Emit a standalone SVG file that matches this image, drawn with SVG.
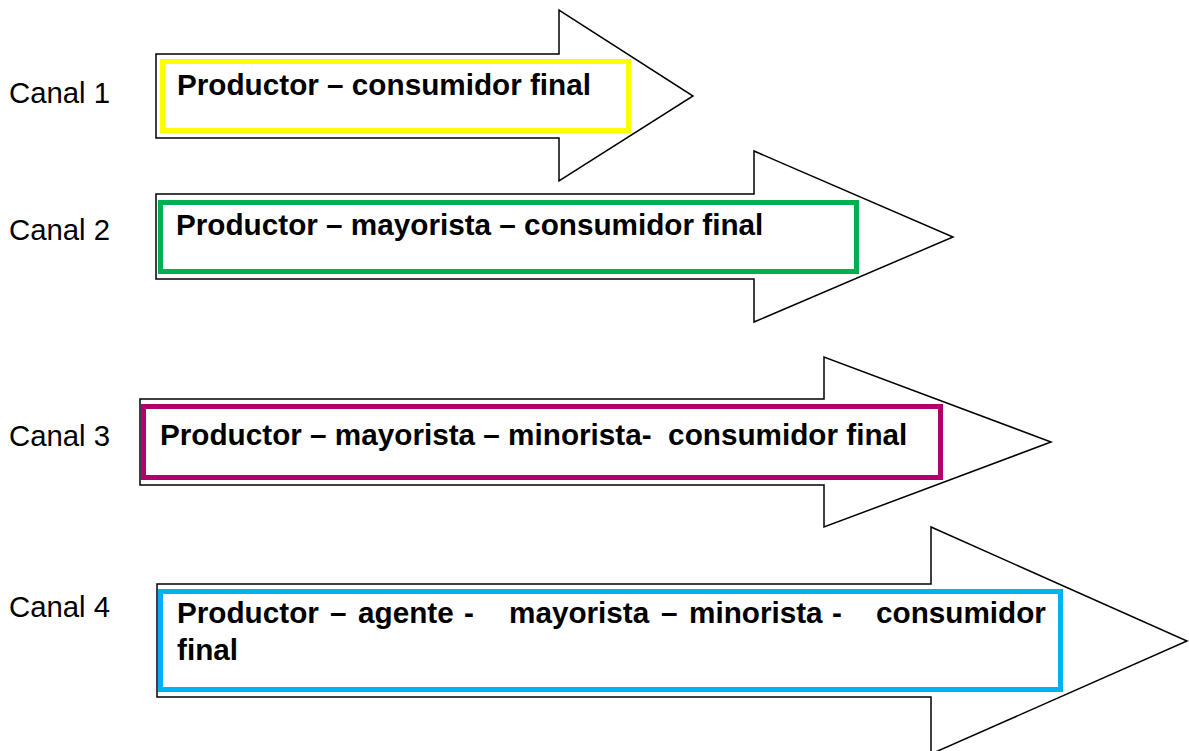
<svg xmlns="http://www.w3.org/2000/svg" width="1189" height="751" viewBox="0 0 1189 751">
<style>
.arrow{fill:#fff;stroke:#000;stroke-width:1.5;stroke-linejoin:miter}
.box{fill:#fff;stroke-width:5}
.lbl{font-family:"Liberation Sans",Arial,sans-serif;font-size:29.33px;fill:#000}
.t{font-family:"Liberation Sans",Arial,sans-serif;font-size:29.7px;font-weight:bold;fill:#000;white-space:pre}
</style>
<rect width="1189" height="751" fill="#fff"/>
<g id="labels">
<text class="lbl" x="9" y="103">Canal 1</text>
<text class="lbl" x="9" y="240">Canal 2</text>
<text class="lbl" x="9" y="446">Canal 3</text>
<text class="lbl" x="9" y="617">Canal 4</text>
</g>
<g id="canal1">
<polygon class="arrow" points="156,54 559,54 559,10 693,96 559,181 559,138 156,138"/>
<rect class="box" x="162.5" y="61.5" width="466" height="69" stroke="#FFFF00"/>
<text class="t" x="177" y="95">Productor – consumidor final</text>
</g>
<g id="canal2">
<polygon class="arrow" points="156,194 754,194 754,151 953,237 754,322 754,279 156,279"/>
<rect class="box" x="160.5" y="202.5" width="696" height="69" stroke="#00B050"/>
<text class="t" x="176" y="235">Productor – mayorista – consumidor final</text>
</g>
<g id="canal3">
<polygon class="arrow" points="140,399 824,399 824,357 1051,442 824,527 824,485 140,485"/>
<rect class="box" x="143.5" y="406.5" width="797" height="71" stroke="#B0006E"/>
<text class="t" x="160" y="445" xml:space="preserve">Productor – mayorista – minorista-  consumidor final</text>
</g>
<g id="canal4">
<polygon class="arrow" points="157,584 931,584 931,527 1187,641 931,754 931,697 157,697"/>
<rect class="box" x="160.5" y="591.5" width="900" height="98" stroke="#00B0F0"/>
<text class="t" y="623"><tspan x="177">Productor</tspan><tspan x="330">–</tspan><tspan x="358">agente</tspan><tspan x="464">-</tspan><tspan x="509">mayorista</tspan><tspan x="661">–</tspan><tspan x="689">minorista</tspan><tspan x="832">-</tspan><tspan x="876">consumidor</tspan></text>
<text class="t" x="177" y="660">final</text>
</g>
<g id="connectors"/>
</svg>
